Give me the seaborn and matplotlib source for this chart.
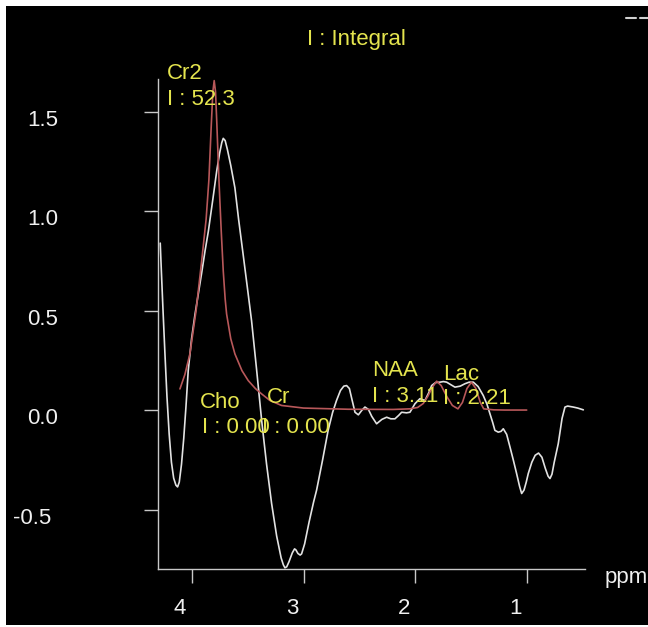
import matplotlib
matplotlib.use("Agg")
import numpy as np
import pandas as pd
import seaborn as sns
import matplotlib.pyplot as plt
from matplotlib.transforms import ScaledTranslation
from matplotlib.patches import Rectangle
from matplotlib.lines import Line2D

# ---------------- data ----------------
spec_ppm = [4.28, 4.27, 4.255, 4.238, 4.22, 4.20, 4.18, 4.16, 4.14, 4.125, 4.11, 4.09,
            4.07, 4.05, 4.03, 4.00, 3.97, 3.94, 3.91, 3.88, 3.85, 3.81, 3.776, 3.75,
            3.73, 3.717, 3.70, 3.68, 3.65, 3.613, 3.58, 3.54, 3.50, 3.464, 3.42, 3.374,
            3.33, 3.285, 3.24, 3.20, 3.18, 3.166, 3.15, 3.13, 3.10, 3.08, 3.068, 3.05,
            3.03, 3.017, 2.99, 2.95, 2.91, 2.883, 2.83, 2.78, 2.74, 2.705, 2.67, 2.64,
            2.615, 2.59, 2.565, 2.54, 2.51, 2.48, 2.451, 2.42, 2.39, 2.347, 2.30, 2.257,
            2.22, 2.183, 2.15, 2.123, 2.08, 2.049, 2.004, 1.96, 1.915, 1.88, 1.855, 1.82,
            1.781, 1.75, 1.721, 1.68, 1.647, 1.60, 1.558, 1.52, 1.483, 1.44, 1.394, 1.36,
            1.334, 1.31, 1.29, 1.26, 1.235, 1.215, 1.185, 1.155, 1.125, 1.096, 1.07, 1.051,
            1.03, 1.01, 0.992, 0.96, 0.93, 0.90, 0.87, 0.84, 0.815, 0.798, 0.78, 0.76,
            0.724, 0.69, 0.664, 0.64, 0.59, 0.55, 0.50]
spec_val = [0.84, 0.70, 0.50, 0.285, 0.07, -0.12, -0.26, -0.34, -0.375, -0.384, -0.36, -0.27,
            -0.14, 0.02, 0.20, 0.36, 0.48, 0.585, 0.69, 0.80, 0.90, 1.06, 1.20, 1.29,
            1.345, 1.366, 1.355, 1.31, 1.23, 1.118, 0.96, 0.786, 0.61, 0.45, 0.21, -0.05,
            -0.27, -0.467, -0.63, -0.74, -0.775, -0.79, -0.785, -0.76, -0.715, -0.695, -0.70, -0.718,
            -0.726, -0.72, -0.67, -0.56, -0.46, -0.40, -0.25, -0.10, -0.01, 0.05, 0.10, 0.122,
            0.125, 0.11, 0.05, -0.009, -0.022, 0.0, 0.017, 0.005, -0.03, -0.067, -0.045, -0.034,
            -0.042, -0.042, -0.025, -0.009, -0.012, -0.009, 0.034, 0.059, 0.05, 0.09, 0.125, 0.14,
            0.142, 0.145, 0.142, 0.128, 0.117, 0.122, 0.134, 0.142, 0.142, 0.12, 0.075, 0.03,
            -0.017, -0.06, -0.10, -0.109, -0.105, -0.092, -0.12, -0.184, -0.25, -0.317, -0.38, -0.417,
            -0.40, -0.36, -0.317, -0.26, -0.225, -0.214, -0.235, -0.29, -0.33, -0.342, -0.32, -0.26,
            -0.167, -0.04, 0.017, 0.022, 0.017, 0.012, 0.003]

fit_ppm = [4.104, 4.06, 4.015, 3.96, 3.91, 3.87, 3.845, 3.825, 3.81, 3.798, 3.786, 3.775,
           3.755, 3.735, 3.717, 3.70, 3.687, 3.65, 3.613, 3.55, 3.494, 3.43, 3.374, 3.30,
           3.196, 3.0, 2.6, 2.2, 2.05, 1.98, 1.93, 1.89, 1.85, 1.81, 1.77, 1.72,
           1.67, 1.62, 1.58, 1.54, 1.50, 1.46, 1.42, 1.39, 1.30, 1.20, 1.006]
fit_val = [0.108, 0.18, 0.284, 0.50, 0.75, 0.96, 1.16, 1.42, 1.60, 1.656, 1.60, 1.45,
           1.15, 0.90, 0.70, 0.56, 0.484, 0.36, 0.284, 0.20, 0.15, 0.11, 0.083, 0.05,
           0.025, 0.012, 0.006, 0.005, 0.008, 0.015, 0.035, 0.07, 0.115, 0.147, 0.125, 0.07,
           0.025, 0.008, 0.04, 0.11, 0.142, 0.11, 0.04, 0.008, 0.003, 0.002, 0.002]

x_ticks = [4, 3, 2, 1]
y_ticks = [-0.5, 0.0, 0.5, 1.0, 1.5]
y_ticklabels = ["-0.5", "0.0", "0.5", "1.0", "1.5"]

peak_labels = ["Cr2", "I : 52.3", "Cho", "I : 0.00", "Cr", "I : 0.00",
               "NAA", "I : 3.11", "Lac", "I : 2.21"]
label_pos = [(4.223, 1.666), (4.223, 1.532), (3.926, 0.010), (3.911, -0.115),
             (3.330, 0.037), (3.374, -0.115), (2.391, 0.175), (2.391, 0.042),
             (1.752, 0.155), (1.752, 0.030)]

spec = pd.DataFrame({"ppm": spec_ppm, "val": spec_val})
fit = pd.DataFrame({"ppm": fit_ppm, "val": fit_val})

# ---------------- style ----------------
sns.set_theme(style="ticks")
plt.rcParams["font.family"] = ["Liberation Sans", "DejaVu Sans"]

W, H = 648, 627
fig = plt.figure(figsize=(W / 100, H / 100), dpi=100)
fig.patch.set_facecolor("white")
fig.add_artist(Rectangle((6 / W, 2 / H), 1 - 6 / W, 1 - 8 / H,
                         transform=fig.transFigure, facecolor="black",
                         edgecolor="none", zorder=-10))

ax = fig.add_axes([158 / W, (H - 569) / H, (585 - 158) / W, (569 - 79) / H])
ax.set_facecolor("black")

sns.lineplot(data=spec, x="ppm", y="val", ax=ax, color="#e2e2e2", lw=1.2,
             sort=False, estimator=None)
sns.lineplot(data=fit, x="ppm", y="val", ax=ax, color="#b8585a", lw=1.2,
             sort=False, estimator=None)

ax.set_xlim(4.30, 0.485)
ax.set_ylim(-0.796, 1.664)
ax.set_xlabel("")
ax.set_ylabel("")

axis_col = "#c8c8c8"
for s in ["top", "right"]:
    ax.spines[s].set_visible(False)
for s in ["left", "bottom"]:
    ax.spines[s].set_color(axis_col)
    ax.spines[s].set_linewidth(1.0)

ax.set_xticks(x_ticks)
ax.set_xticklabels([str(t) for t in x_ticks])
ax.set_yticks(y_ticks)
ax.set_yticklabels(y_ticklabels)
ax.tick_params(axis="both", colors=axis_col, labelcolor="#f0f0f0",
               length=10, width=1.0, labelsize=16)
ax.tick_params(axis="y", pad=62)
ax.tick_params(axis="x", pad=11)

for lab in ax.get_xticklabels():
    lab.set_transform(lab.get_transform() +
                      ScaledTranslation(-0.117, 0, fig.dpi_scale_trans))
for lab in ax.get_yticklabels():
    dx = -0.07 if lab.get_text() == "-0.5" else 0.0
    lab.set_transform(lab.get_transform() +
                      ScaledTranslation(dx, -0.06, fig.dpi_scale_trans))

yellow = "#e4e44e"
for txt, (px, py) in zip(peak_labels, label_pos):
    ax.text(px, py, txt, color=yellow, fontsize=16, ha="left", va="baseline",
            clip_on=False, zorder=5)

fig.text(306.7 / W, 1 - 45 / H, "I : Integral", color=yellow, fontsize=16,
         ha="left", va="baseline")
fig.text(605 / W, 1 - 578 / H, "ppm", color="#f0f0f0", fontsize=16,
         ha="left", va="center")
for x0, x1 in [(626, 636), (640, 648)]:
    fig.add_artist(Line2D([x0 / W, x1 / W], [1 - 18 / H, 1 - 18 / H],
                          transform=fig.transFigure, color="#d0d0d0", lw=1.5))

fig.savefig("out.png", dpi=100, facecolor=fig.get_facecolor())
